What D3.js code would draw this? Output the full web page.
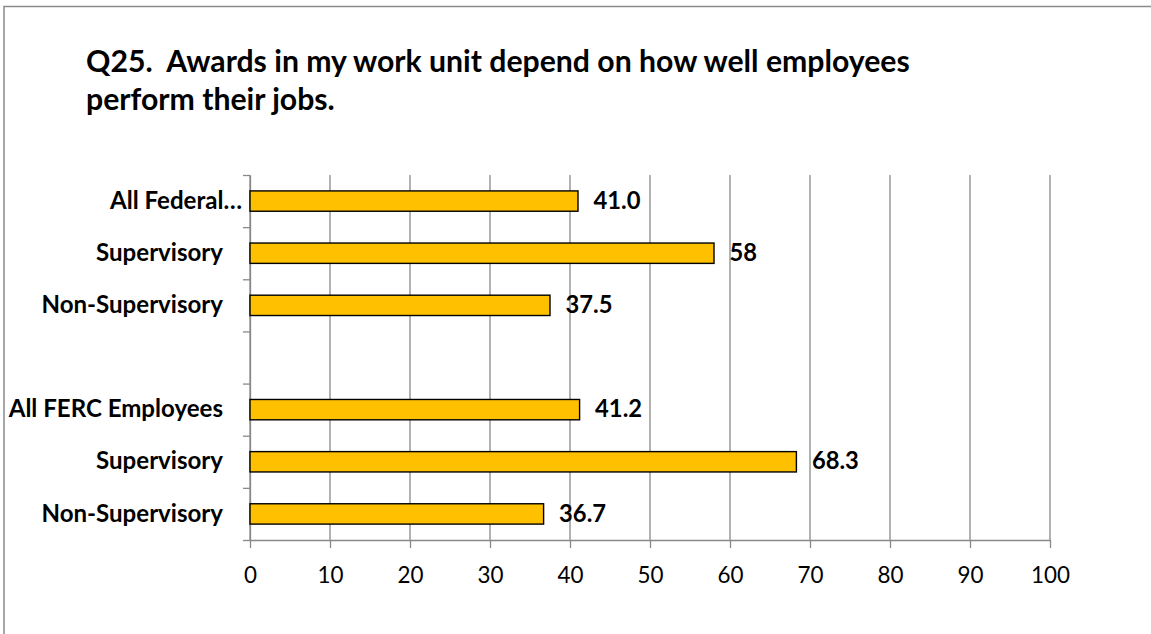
<!DOCTYPE html>
<html>
<head>
<meta charset="utf-8">
<script src="https://cdn.jsdelivr.net/npm/d3@7/dist/d3.min.js"></script>
<style>
  html, body { margin: 0; padding: 0; background: #fff; }
  svg { display: block; }
  text { font-family: Lato, "Open Sans", sans-serif; fill: #000; white-space: pre; }
</style>
</head>
<body>
<svg id="chart" width="1151" height="634"></svg>
<script>
// Survey item and response groups
const titleLines = [
  "Q25.  Awards in my work unit depend on how well employees",
  "perform their jobs."
];
const categories = [
  "All Federal…",
  "Supervisory",
  "Non-Supervisory",
  "",
  "All FERC Employees",
  "Supervisory",
  "Non-Supervisory"
];
// Percent positive, one per category (blank row is a spacer)
const values = [41.0, 58, 37.5, null, 41.2, 68.3, 36.7];
const valueLabels = ["41.0", "58", "37.5", "", "41.2", "68.3", "36.7"];
const xTicks = [0, 10, 20, 30, 40, 50, 60, 70, 80, 90, 100];

const svg = d3.select("#chart");
const W = 1151, H = 634;
const margin = { top: 175, left: 250, right: 101, bottom: 94 };
const plotW = W - margin.left - margin.right;   // 800
const plotH = H - margin.top - margin.bottom;    // 365

const gridColor = "#898989";
const barFill = "#FFC000";

// Size a font so that a reference string spans a given width
function fitSize(text, weight, target, start) {
  const t = svg.append("text")
    .attr("xml:space", "preserve")
    .style("font-weight", weight)
    .style("font-size", start + "px")
    .text(text);
  const w = t.node().getComputedTextLength();
  t.remove();
  return start * target / w;
}

// Outer frame (top and left edges visible)
svg.append("rect")
  .attr("x", 4).attr("y", 6.5)
  .attr("width", W + 20).attr("height", H + 20)
  .attr("fill", "none")
  .attr("stroke", "#8a8a8a")
  .attr("stroke-width", 1.5);

// Title
const titleSize = fitSize(titleLines[0], 700, 824, 26);
svg.append("g").selectAll("text")
  .data(titleLines)
  .join("text")
  .attr("xml:space", "preserve")
  .attr("x", 86)
  .attr("y", (d, i) => 71.7 + i * 38.3)
  .style("font-weight", 700)
  .style("font-size", titleSize + "px")
  .text(d => d);

const x = d3.scaleLinear().domain([0, 100]).range([margin.left, margin.left + plotW]);
const y = d3.scaleBand()
  .domain(d3.range(categories.length))
  .range([margin.top, margin.top + plotH])
  .paddingInner(0.61)
  .paddingOuter(0.305);

// Vertical gridlines
svg.append("g").selectAll("line")
  .data(xTicks)
  .join("line")
  .attr("x1", d => x(d)).attr("x2", d => x(d))
  .attr("y1", margin.top).attr("y2", margin.top + plotH)
  .attr("stroke", gridColor)
  .attr("stroke-width", 1.3);

// Bottom axis
const tickSize = fitSize("100", 400, 39, 22);
const xAxis = svg.append("g")
  .attr("transform", `translate(0,${margin.top + plotH})`)
  .call(d3.axisBottom(x).tickValues(xTicks).tickSize(8).tickSizeOuter(0).tickPadding(0));
xAxis.select(".domain").attr("stroke", gridColor).attr("stroke-width", 1.3);
xAxis.selectAll(".tick line").attr("stroke", gridColor).attr("stroke-width", 1.3);
xAxis.selectAll(".tick text")
  .attr("y", 43).attr("dy", null)
  .style("font-family", "Lato, 'Open Sans', sans-serif")
  .style("font-size", tickSize + "px")
  .style("font-weight", 400)
  .attr("fill", "#000");

// Left axis: tick marks at category boundaries
const yEdges = d3.scaleLinear().domain([0, categories.length]).range([margin.top, margin.top + plotH]);
const yAxis = svg.append("g")
  .attr("transform", `translate(${margin.left},0)`)
  .call(d3.axisLeft(yEdges).tickValues(d3.range(categories.length + 1)).tickSize(7).tickSizeOuter(0).tickFormat(""));
yAxis.select(".domain").attr("stroke", gridColor).attr("stroke-width", 1.3);
yAxis.selectAll(".tick line").attr("stroke", gridColor).attr("stroke-width", 1.3);

// Category labels
const labelSize = fitSize("Non-Supervisory", 700, 181.6, 20);
svg.append("g").selectAll("text")
  .data(categories)
  .join("text")
  .attr("x", d => margin.left - (d.endsWith("…") ? 8 : 27))
  .attr("y", (d, i) => y(i) + y.bandwidth() / 2 + 7.6)
  .attr("text-anchor", "end")
  .style("font-weight", 700)
  .style("font-size", labelSize + "px")
  .text(d => d);

// Bars
const rows = values.map((v, i) => ({ i, v, label: valueLabels[i] })).filter(r => r.v != null);
svg.append("g").selectAll("rect")
  .data(rows)
  .join("rect")
  .attr("x", x(0))
  .attr("y", d => y(d.i))
  .attr("width", d => x(d.v) - x(0))
  .attr("height", y.bandwidth())
  .attr("fill", barFill)
  .attr("stroke", "#000")
  .attr("stroke-width", 1.4);

// Value labels
const valueSize = fitSize("41.0", 700, 47, 20);
svg.append("g").selectAll("text")
  .data(rows)
  .join("text")
  .attr("x", d => x(d.v) + 15.5)
  .attr("y", d => y(d.i) + y.bandwidth() / 2 + 7.6)
  .style("font-weight", 700)
  .style("font-size", valueSize + "px")
  .text(d => d.label);
</script>
</body>
</html>
